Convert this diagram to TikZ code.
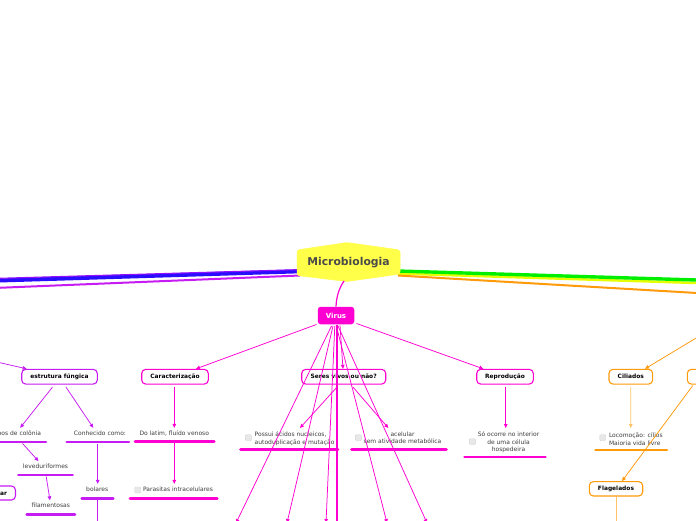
\documentclass[tikz,border=0pt]{standalone}
\usepackage{fontspec}
\setmainfont{DejaVu Sans}
\usetikzlibrary{arrows.meta,calc}
\definecolor{fungi}{HTML}{C61BF2}
\definecolor{vir}{HTML}{FF00D2}
\definecolor{prot}{HTML}{FF9A0A}
\definecolor{protl}{HTML}{FFC46A}
\definecolor{hexy}{HTML}{FFFF4A}
\definecolor{ttext}{HTML}{4A4A4A}
\definecolor{btext}{HTML}{3C3C3C}
\definecolor{bluel}{HTML}{2A0CFF}
\definecolor{violl}{HTML}{9010FF}
\definecolor{greenl}{HTML}{00EE00}
\definecolor{yell}{HTML}{E6FF00}
\definecolor{boxg}{HTML}{E8E8E8}
\definecolor{boxgd}{HTML}{D4D4D4}
\tikzset{
 topic/.style={draw, rounded corners=4pt, line width=1.1pt, fill=white, text=black,
   font=\fontsize{5.9}{7}\selectfont\bfseries, minimum height=14.7pt, inner xsep=2pt, inner ysep=0pt},
 subtxt/.style={inner sep=0.5pt, text height=4.6pt, text depth=1.4pt, font=\fontsize{6}{7.5}\selectfont, text=btext},
 subml/.style={inner sep=0.5pt, font=\fontsize{6}{7.5}\selectfont, text=btext},
 ul/.style={line width=2.6pt, line cap=round},
 conn/.style={line width=0.75pt, -{Triangle[length=4pt,width=3.6pt]}},
 chk/.style={draw=boxgd, fill=boxg, rounded corners=1pt, minimum size=6pt, inner sep=0pt, line width=0.4pt},
}
\begin{document}
\begin{tikzpicture}[x=1pt,y=-1pt]
\useasboundingbox (0,0) rectangle (696,520);
\begin{scope}
\clip (0,0) rectangle (696,520);
% main branches
\coordinate (cR1) at (398,273.5); \coordinate (eR1) at (697,283);
\coordinate (cR2) at (398,271);   \coordinate (eR2) at (697,280);
\coordinate (cR3) at (398,275.5); \coordinate (eR3) at (697,293);
\coordinate (cL1) at (300,271.3); \coordinate (eL1) at (-1,280.5);
\coordinate (cL2) at (300,269.6); \coordinate (eL2) at (-1,278.3);
\coordinate (cL3) at (300,275.5); \coordinate (eL3) at (-1,287.8);
\draw[line width=2.5pt, yell] (cR1) -- (eR1);
\draw[line width=3.4pt, greenl] (cR2) -- (eR2);
\draw[line width=2pt, prot] (cR3) -- (eR3);
\draw[line width=4pt, bluel] (cL1) -- (eL1);
\draw[line width=1.1pt, violl] (cL2) -- (eL2);
\draw[line width=2pt, fungi] (cL3) -- (eL3);
% central topic
\filldraw[fill=hexy, draw=hexy, line width=0.5pt, rounded corners=2.5pt]
  (297,250) -- (347,242.5) -- (400,250) -- (400,274) -- (347,281.5) -- (297,275.5) -- cycle;
\node[font=\fontsize{10.8}{12}\selectfont\bfseries, text=ttext] (mb) at (348.5,262.5) {Microbiologia};
\coordinate (mbB) at (344,281);
% Virus
\node[fill=vir, rounded corners=3pt, minimum width=36.5pt, minimum height=17.5pt, inner sep=0pt,
  text=white, font=\fontsize{7}{8}\selectfont\bfseries] (virus) at (336,315.5) {Virus};
\draw[vir, line width=1.2pt] (mbB) .. controls (338,290) and (336.5,298) .. (virus.north);
% topics
\node[topic, draw=fungi, minimum width=75.6pt] (ef) at (59.5,376.7) {estrutura fúngica};
\node[topic, draw=vir, minimum width=66.6pt] (car) at (175,376.7) {Caracterização};
\node[topic, draw=vir, minimum width=84pt] (ser) at (343.7,376.7) {Seres vivos ou não?};
\node[topic, draw=vir, minimum width=56.6pt] (rep) at (505,376.7) {Reprodução};
\node[topic, draw=prot, minimum width=43.7pt] (cil) at (630.8,376.7) {Ciliados};
\node[topic, draw=prot, minimum width=54pt] (amb) at (714.3,376.7) {};
\node[topic, draw=prot, minimum width=53.4pt, minimum height=14.3pt] (fla) at (616,488.8) {Flagelados};
\node[topic, draw=fungi, anchor=east, inner xsep=8.5pt, minimum height=14pt] (pluri) at (16,493) {Pluricelular};
% sub texts (single line)
\node[subtxt] (tcT) at (16.7,434) {Tipos de colônia};
\node[subtxt] (ccT) at (100,434) {Conhecido como:};
\node[subtxt] (levT) at (45.5,467.3) {leveduriformes};
\node[subtxt] (filT) at (50.8,506) {filamentosas};
\node[subtxt] (bolT) at (97.2,490) {bolares};
\node[subtxt] (latT) at (174.3,434) {Do latim, fluído venoso};
\node[subtxt] (parT) at (178,490) {Parasitas intracelulares};
% sub texts (multi line)
\node[subml, anchor=north west, align=left] (posT) at (254,431) {Possui ácidos nucleicos,\\autoduplicação e mutação};
\node[subml, anchor=north, align=center] (aceT) at (402.5,431) {acelular\\sem atividade metabólica};
\node[subml, anchor=north, align=center] (repT) at (508.5,431) {Só ocorre no interior\\de uma célula\\hospedeira};
\node[subml, anchor=north west, align=left] (locT) at (608.3,432) {Locomoção: cílios\\Maioria vida livre};
% checkboxes
\node[chk] (parC) at (137.7,490) {};
\node[chk] (posC) at (248.3,437.7) {};
\node[chk] (aceC) at (358.3,437.7) {};
\node[chk] (repC) at (472.3,441.7) {};
\node[chk] (locC) at (602.7,437.7) {};
% underlines
\coordinate (tcL) at (-10,442);  \coordinate (tcR) at (46,442);
\coordinate (ccL) at (66.7,442); \coordinate (ccR) at (129,442);
\coordinate (levL) at (18.3,475); \coordinate (levR) at (72.7,475);
\coordinate (filL) at (26.7,514.3); \coordinate (filR) at (75,514.3);
\coordinate (bolL) at (81.7,498.3); \coordinate (bolR) at (113.3,498.3);
\coordinate (latL) at (135,441.7); \coordinate (latR) at (214.3,441.7);
\coordinate (parL) at (130,498.3); \coordinate (parR) at (217.3,498.3);
\coordinate (posL) at (240.5,449.3); \coordinate (posR) at (338,449.3);
\coordinate (aceL) at (351.5,449.3); \coordinate (aceR) at (446.5,449.3);
\coordinate (repL) at (464.5,457); \coordinate (repR) at (545.5,457);
\coordinate (locL) at (595.5,450); \coordinate (locR) at (667,450);
\draw[ul, fungi] (tcL) -- (tcR);
\draw[ul, fungi] (ccL) -- (ccR);
\draw[ul, fungi] (levL) -- (levR);
\draw[ul, fungi] (filL) -- (filR);
\draw[ul, fungi] (bolL) -- (bolR);
\draw[ul, vir] (latL) -- (latR);
\draw[ul, vir] (parL) -- (parR);
\draw[ul, vir] (posL) -- (posR);
\draw[ul, vir] (aceL) -- (aceR);
\draw[ul, vir] (repL) -- (repR);
\draw[ul, prot] (locL) -- (locR);
% fungi connectors
\coordinate (lf) at (-1,362.5);
\draw[conn, fungi] (lf) -- ($(ef.north west)+(5.5,0)$);
\draw[conn, fungi] ($(ef.south)+(-7,2.5)$) -- ($(tcT.north)+(3.5,-2.5)$);
\draw[conn, fungi] ($(ef.south)+(6.5,2.5)$) -- ($(ccT.north)+(-6.7,-2.5)$);
\draw[conn, fungi] ($(tcR)+(-23.5,1.5)$) -- ($(levT.north)+(-7,-2.5)$);
\draw[conn, fungi] ($(levR)+(-26.5,1.5)$) -- ($(filT.north)+(-0.8,-2)$);
\draw[conn, fungi] ($(ccL)+(31,1.5)$) -- ($(bolT.north)+(0.5,-2.5)$);
\coordinate (bolD) at (97.7,522);
\draw[fungi, line width=0.75pt] ($(bolL)+(16,1.5)$) -- (bolD);
% virus children connectors
\draw[conn, vir] ($(car.south)+(-0.7,2.3)$) -- ($(latT.north)+(0,-2.5)$);
\draw[conn, vir] ($(latL)+(39.3,1.5)$) -- ($(parT.north)+(-3.7,-2.5)$);
\draw[conn, vir] ($(ser.south)+(-6.7,2.5)$) -- ($(posT.north west)+(46,-3)$);
\draw[conn, vir] ($(ser.south)+(9.3,2.5)$) -- ($(aceT.north)+(-14.2,-3)$);
\draw[conn, vir] ($(rep.south)+(0.7,2.5)$) -- ($(repT.north)+(-2.8,-3)$);
% protozoa connectors
\coordinate (oR) at (697,337.5);
\draw[conn, prot] (oR) -- ($(cil.north)+(14.2,0)$);
\draw[conn, protl] ($(cil.south)+(0,2.5)$) -- ($(locT.north west)+(22.4,-4)$);
\draw[conn, prot] ($(amb.south west)+(6,1)$) -- ($(fla.north)+(6,0)$);
\coordinate (flaD) at (616,522);
\draw[protl, line width=0.75pt] (fla.south) -- (flaD);
% virus connectors
\draw[conn, vir] ($(virus.south west)+(-1,0)$) -- ($(car.north)+(21,0)$);
\draw[conn, vir] ($(virus.south east)+(2,-1)$) -- ($(rep.north)+(-21.7,0)$);
\draw[conn, vir] ($(virus.south)+(4,1)$) -- ($(ser.north)+(-0.7,0)$);
\coordinate (dA) at (236,523);
\coordinate (dB) at (287,523);
\coordinate (dC) at (326,523);
\coordinate (dD) at (337,523);
\coordinate (dE) at (387,523);
\coordinate (dF) at (427,523);
\draw[conn, vir] ($(virus.south)+(-4.5,1.5)$) -- (dA);
\draw[conn, vir] ($(virus.south)+(-3,1.5)$) -- (dB);
\draw[conn, vir] ($(virus.south)+(-1.2,1.5)$) -- (dC);
\draw[vir, line width=2pt] ($(virus.south)+(1,1)$) -- (dD);
\draw[conn, vir] ($(virus.south)+(0.3,1.5)$) -- (dE);
\draw[conn, vir] ($(virus.south)+(2,1.5)$) -- (dF);
\end{scope}
\end{tikzpicture}
\end{document}
